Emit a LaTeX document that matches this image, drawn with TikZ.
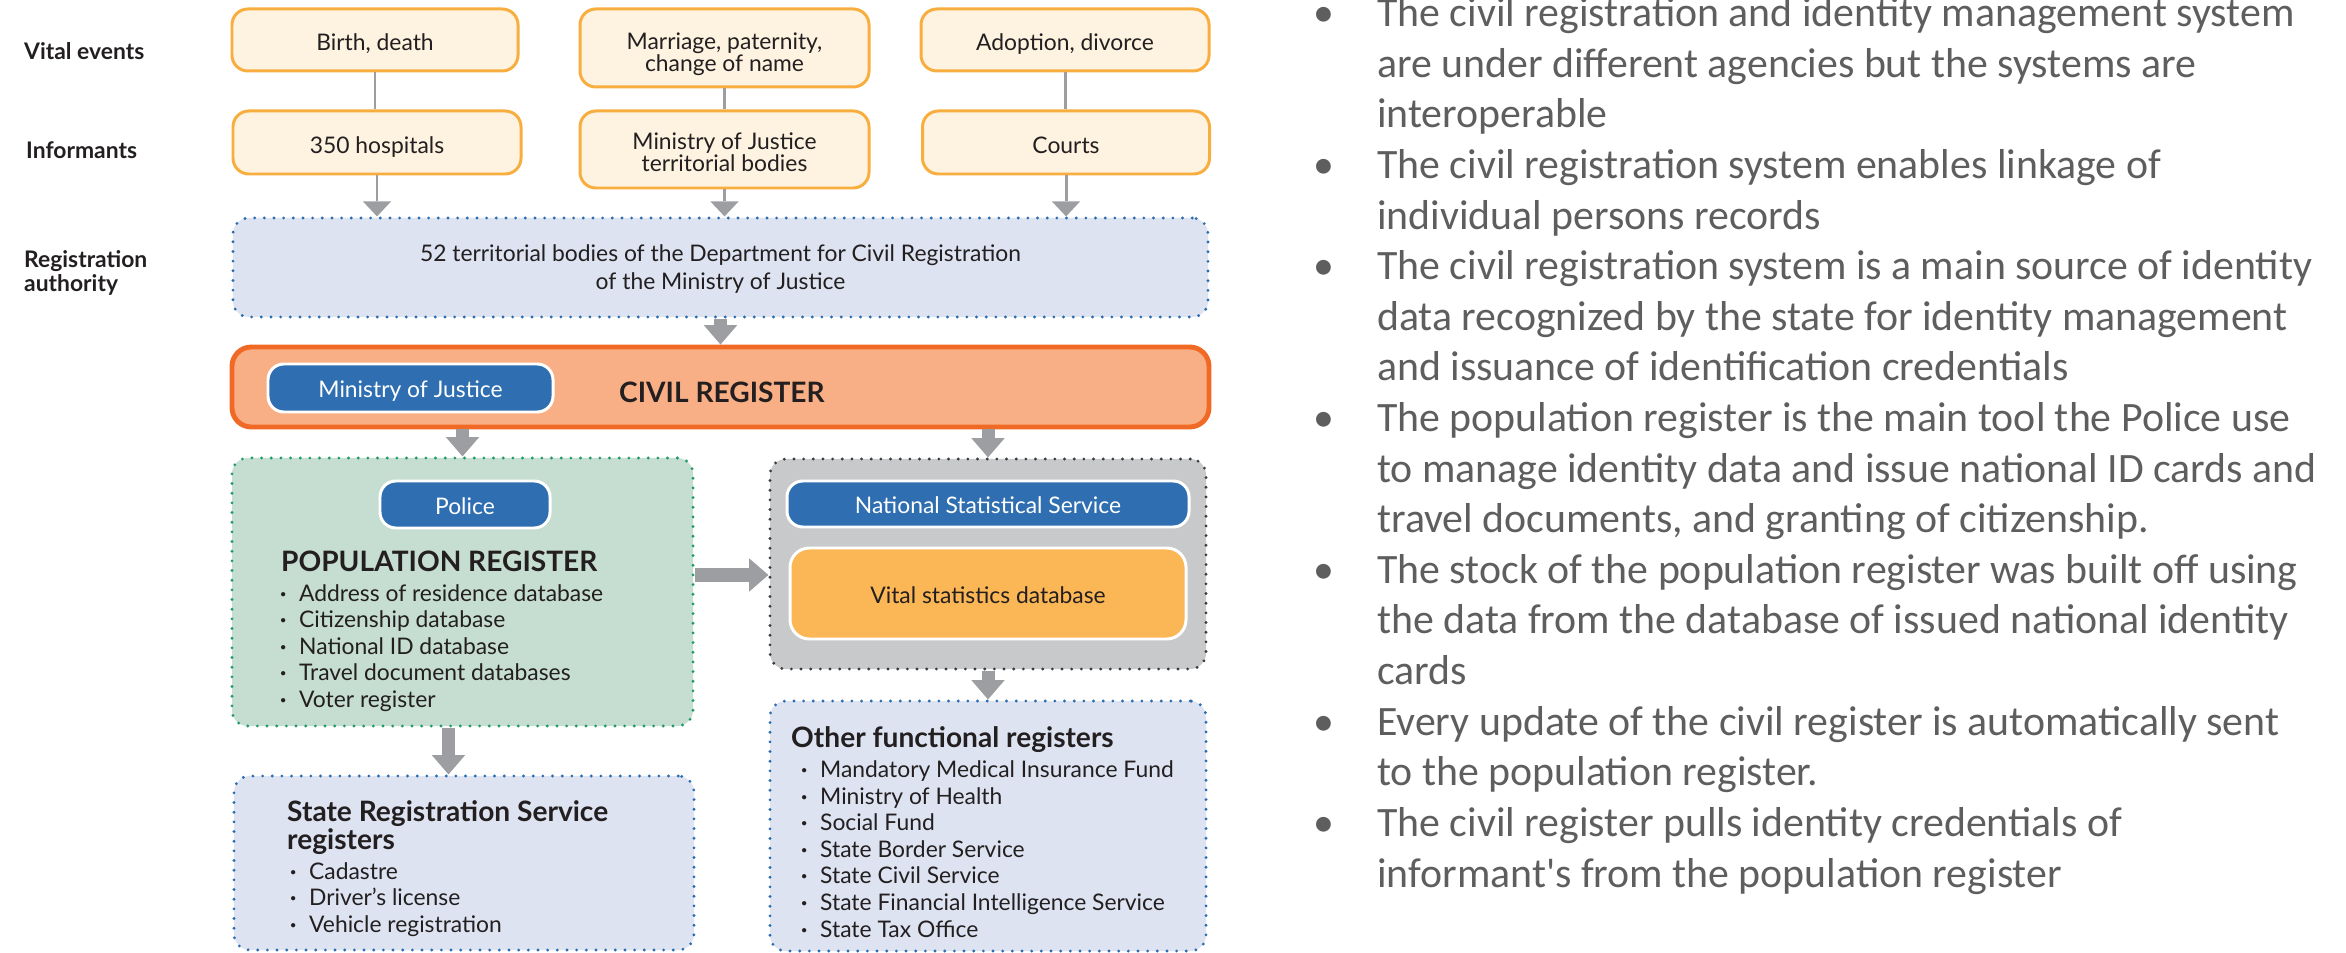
\documentclass[tikz,border=0pt]{standalone}
\usepackage{fontspec}
\setmainfont{Lato}
\newfontfamily\notesfont{Carlito}
\usetikzlibrary{arrows.meta,calc}

\definecolor{ink}{HTML}{231F20}
\definecolor{evfill}{HTML}{FEF2E0}
\definecolor{evdraw}{HTML}{F8AE3E}
\definecolor{regfill}{HTML}{DDE3F1}
\definecolor{regdot}{HTML}{2B6CB0}
\definecolor{civfill}{HTML}{F9AF85}
\definecolor{civdraw}{HTML}{F06A25}
\definecolor{pillfill}{HTML}{2F6FB1}
\definecolor{polfill}{HTML}{C6DDD1}
\definecolor{poldot}{HTML}{1E9B66}
\definecolor{nssfill}{HTML}{C8C9CB}
\definecolor{nssdot}{HTML}{3C3C3C}
\definecolor{vitfill}{HTML}{FBB755}
\definecolor{arrowgray}{HTML}{9D9EA1}
\definecolor{notegray}{HTML}{5E5E5E}

\newcommand\regitem{\makebox[10.8pt][l]{\textbf{·}}}
\newcommand\nb{\llap{\makebox[36.3pt][l]{\textbullet}}}

\begin{document}
\begin{tikzpicture}[x=0.2mm,y=-0.2mm,
    event/.style={draw=evdraw, fill=evfill, line width=1.7pt, rounded corners=9pt,
      inner sep=0pt, align=center, text=ink, text height=12.3pt, text depth=0pt,
      font=\fontsize{13}{12.5}\selectfont},
    dotbox/.style={fill=#1, line width=1.8pt, line cap=round,
      dash pattern=on 0pt off 5.5pt, rounded corners=9pt, inner sep=0pt},
    pill/.style={draw=white, fill=pillfill, line width=1.7pt, rounded corners=9pt,
      inner sep=0pt, text=white, text height=11pt, text depth=0pt, font=\fontsize{13}{15}\selectfont},
    rowlabel/.style={anchor=west, align=left, text=ink, font=\bfseries\fontsize{13}{13.7}\selectfont},
    heading/.style={anchor=base west, align=left, text=ink, font=\bfseries\fontsize{16}{15.4}\selectfont},
    items/.style={anchor=base west, align=left, text=ink, font=\fontsize{13}{15}\selectfont},
    link/.style={draw=arrowgray, line width=1.7pt},
    linkarrow/.style={link, -{Triangle[width=16pt,length=8.5pt,line width=0pt]}},
    fatarrow/.style={draw=arrowgray, line width=7.4pt, -{Triangle[width=19pt,length=11pt,line width=0pt]}},
    notes/.style={anchor=base west, align=left, text=notegray, font=\notesfont\fontsize{23.8}{28.8}\selectfont}]
  \useasboundingbox (0,0) rectangle (2346,953);

  % row labels
  \node[rowlabel] (lvital) at (18,51) {Vital events};
  \node[rowlabel] (linform) at (20,150) {Informants};
  \node[rowlabel] (lauth) at (18,273) {Registration\\authority};

  % vital events and informants
  \node[event, minimum width=57.2mm, minimum height=12.4mm] (birth) at (375,40) {Birth, death};
  \node[event, minimum width=57.8mm, minimum height=15.6mm, text height=26.2pt] (marriage) at (724.5,48) {Marriage, paternity,\\change of name};
  \node[event, minimum width=57.6mm, minimum height=12.4mm] (adoption) at (1065,40) {Adoption, divorce};
  \node[event, minimum width=57.6mm, minimum height=12.6mm] (hospitals) at (377,142.5) {350 hospitals};
  \node[event, minimum width=57.8mm, minimum height=15.4mm, text height=25pt] (mojbodies) at (724.5,149.5) {Ministry of Justice\\territorial bodies};
  \node[event, minimum width=57.4mm, minimum height=12.6mm] (courts) at (1066,142.5) {Courts};

  % registration authority
  \node[dotbox=regfill, draw=regdot, minimum width=195mm, minimum height=19.8mm,
    align=center, text=ink, text height=24.5pt, text depth=0pt, font=\fontsize{13}{15.4}\selectfont]
    (reg) at (720.5,267.5)
    {52 territorial bodies of the Department for Civil Registration\\of the Ministry of Justice};

  % civil register
  \node[draw=civdraw, fill=civfill, line width=2.8pt, rounded corners=11pt, inner sep=0pt,
    minimum width=195.4mm, minimum height=16mm] (civil) at (720.5,387) {};
  \node[pill, minimum width=57mm, minimum height=9.6mm] (mojpill) at (410.5,388) {Ministry of Justice};
  \node[heading] (civtitle) at (613,403) {CIVIL REGISTER};

  % population register (multi-line nodes sit on their last baseline)
  \node[dotbox=polfill, draw=poldot, minimum width=92.2mm, minimum height=53.6mm] (police) at (462.5,592) {};
  \node[pill, minimum width=34mm, minimum height=9.4mm] (policepill) at (465,504.5) {Police};
  \node[heading] (poptitle) at (275,571) {POPULATION REGISTER};
  \node[items] (popitems) at (274,707) {\regitem Address of residence database\\
    \regitem Citizenship database\\ \regitem National ID database\\
    \regitem Travel document databases\\ \regitem Voter register};

  % statistics
  \node[dotbox=nssfill, draw=nssdot, minimum width=87.2mm, minimum height=42mm] (nss) at (988,564) {};
  \node[pill, minimum width=80.4mm, minimum height=9.2mm] (nsspill) at (988,504) {National Statistical Service};
  \node[draw=white, fill=vitfill, line width=1.7pt, rounded corners=11pt, inner sep=0pt,
    minimum width=79.2mm, minimum height=18.2mm, text=ink, text height=11pt, text depth=0pt,
    font=\fontsize{13}{15}\selectfont] (vital) at (988,593.5) {Vital statistics database};

  % downstream registers
  \node[dotbox=regfill, draw=regdot, minimum width=92mm, minimum height=34.8mm] (state) at (464,863) {};
  \node[heading] (statetitle) at (281,849) {State Registration Service\\registers};
  \node[items] (stateitems) at (284,932) {\regitem Cadastre\\ \regitem Driver's license\\ \regitem Vehicle registration};
  \node[dotbox=regfill, draw=regdot, minimum width=87.2mm, minimum height=50mm] (other) at (988,826) {};
  \node[heading] (othertitle) at (785,747) {Other functional registers};
  \node[items, font=\fontsize{13}{15.1}\selectfont] (otheritems) at (795,937) {\regitem Mandatory Medical Insurance Fund\\
    \regitem Ministry of Health\\ \regitem Social Fund\\ \regitem State Border Service\\
    \regitem State Civil Service\\ \regitem State Financial Intelligence Service\\ \regitem State Tax Office};

  % connectors
  \draw[link] (birth.south) -- (birth.south |- hospitals.north);
  \draw[link] (marriage.south) -- (marriage.south |- mojbodies.north);
  \draw[link] (adoption.south) -- (adoption.south |- courts.north);
  \draw[linkarrow] (hospitals.south) -- (hospitals.south |- reg.north);
  \draw[linkarrow] (mojbodies.south) -- (mojbodies.south |- reg.north);
  \draw[linkarrow] (courts.south) -- (courts.south |- reg.north);
  \draw[fatarrow] (reg.south) -- (reg.south |- civil.north);
  \draw[fatarrow] (civil.south -| police.north) -- (police.north);
  \draw[fatarrow] (civil.south -| nss.north) -- (nss.north);
  \coordinate (feed) at (0,575);
  \draw[fatarrow] (police.east |- feed) -- (nss.west |- feed);
  \coordinate (drop) at ($(police.south)+(-14,0)$);
  \draw[fatarrow] (drop) -- (drop |- state.north);
  \draw[fatarrow] (nss.south) -- (nss.south |- other.north);

  % summary points
  \node[notes] (summary) at (1371,887) {%
    \nb The civil registration and identity management system\\
    are under different agencies but the systems are\\
    interoperable\\
    \nb The civil registration system enables linkage of\\
    individual persons records\\
    \nb The civil registration system is a main source of identity\\
    data recognized by the state for identity management\\
    and issuance of identification credentials\\
    \nb The population register is the main tool the Police use\\
    to manage identity data and issue national ID cards and\\
    travel documents, and granting of citizenship.\\
    \nb The stock of the population register was built off using\\
    the data from the database of issued national identity\\
    cards\\
    \nb Every update of the civil register is automatically sent\\
    to the population register.\\
    \nb The civil register pulls identity credentials of\\
    informant\textquotesingle s from the population register};
\end{tikzpicture}
\end{document}
